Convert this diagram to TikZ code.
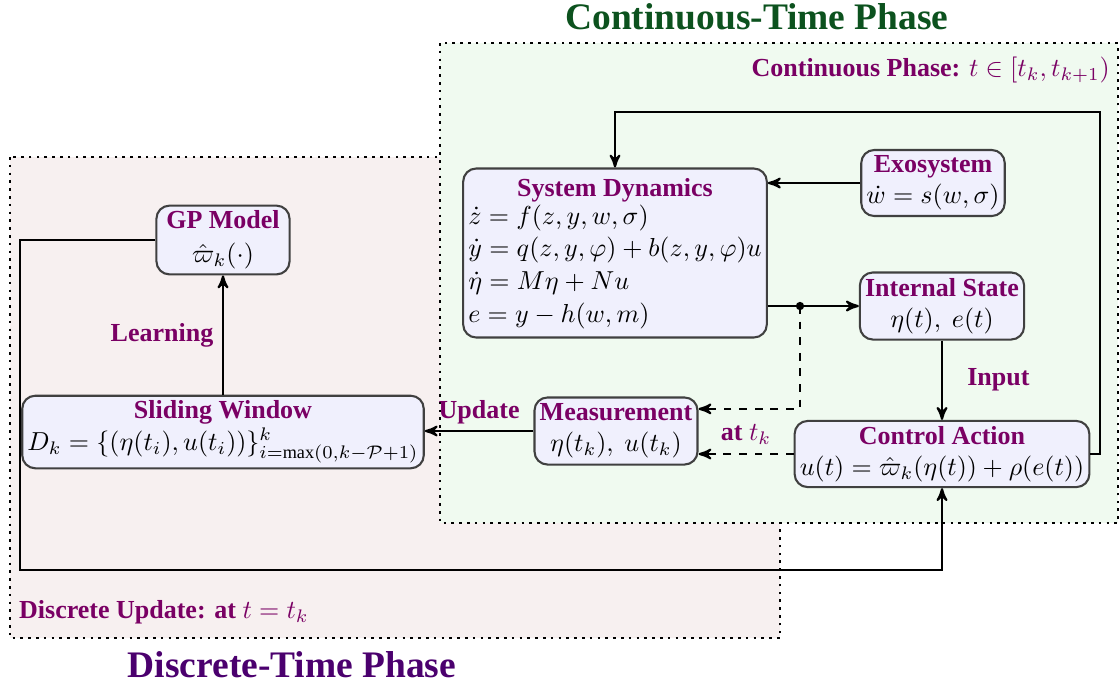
\documentclass[tikz,border=0pt]{standalone}
\usepackage{amsmath}
\usepackage{amssymb}
\usepackage{fontspec}
\setmainfont{Liberation Serif}
\usepackage{tikz}
\usetikzlibrary{arrows.meta, positioning, arrows, calc}

\definecolor{labelpurple}{RGB}{122,0,100}
\definecolor{blockfill}{RGB}{240,240,253}
\definecolor{contfill}{RGB}{240,250,240}
\definecolor{discfill}{RGB}{247,240,240}
\definecolor{conttitle}{RGB}{12,82,30}
\definecolor{disctitle}{RGB}{75,0,110}

\newcommand{\ttl}[1]{\textcolor{labelpurple}{\bfseries #1}}

\tikzset{
  block/.style={draw=black!75, fill=blockfill, rounded corners=5pt, align=center, inner sep=2pt, thick},
  lbl/.style={text=labelpurple, font=\bfseries},
  region/.style={draw=black, dotted, line width=1pt},
  flow/.style={->, thick},
}

\begin{document}
\begin{tikzpicture}[>=stealth', x=0.3846pt, y=-0.3846pt]
\useasboundingbox (0,0) rectangle (1120,685);

% Phase regions (discrete one below the continuous one)
\draw[region, fill=discfill] (10,157) rectangle (780,638);
\draw[region, fill=contfill] (440,43) rectangle (1118,523);

\node (conttitle) [text=conttitle, font=\Large\bfseries] at (757,17) {Continuous-Time Phase};
\node (disctitle) [text=disctitle, font=\Large\bfseries] at (292,665) {Discrete-Time Phase};
\node (contlabel) [lbl, anchor=east] at (1119,70) {Continuous Phase: $t \in [t_k, t_{k+1})$};
\node (disclabel) [lbl, anchor=west] at (10,612) {Discrete Update: at $t = t_k$};

% Blocks of the continuous phase
\node (sd) [block, inner ysep=0pt, minimum width=113.8pt, minimum height=65pt] at (615,253) {%
  \renewcommand{\arraystretch}{1.05}%
  \begin{tabular}{@{}l@{}}
    \multicolumn{1}{@{}c@{}}{\ttl{System Dynamics}}\\[-2pt]
    $\dot z = f(z,y,w,\sigma)$\\
    $\dot y = q(z,y,\varphi) + b(z,y,\varphi)u$\\
    $\dot\eta = M\eta + Nu$\\
    $e = y - h(w,m)$
  \end{tabular}};
\node (exo) [block, minimum width=54.6pt, minimum height=25.4pt] at (933,183) {\ttl{Exosystem}\\ $\dot w = s(w,\sigma)$};
\node (is) [block, minimum width=61.5pt, minimum height=25.8pt] at (942,306) {\ttl{Internal State}\\ $\eta(t),\ e(t)$};
\node (ca) [block, minimum width=110.8pt, minimum height=25.4pt] at (942,454) {\ttl{Control Action}\\ $u(t) = \hat{\varpi}_k(\eta(t)) + \rho(e(t))$};
\node (meas) [block, minimum width=61.9pt, minimum height=25.8pt] at (616,431) {\ttl{Measurement}\\ $\eta(t_k),\ u(t_k)$};

% Blocks of the discrete phase
\node (sw) [block, minimum width=151.9pt, minimum height=26.9pt] at (223,432) {\ttl{Sliding Window}\\ $D_k = \{(\eta(t_i), u(t_i))\}_{i=\max(0,k-\mathcal{P}+1)}^{k}$};
\node (gp) [block, minimum width=51.2pt, minimum height=25.8pt] at (223,240) {\ttl{GP Model}\\[1pt] $\hat{\varpi}_k(\cdot)$};

% Connectors
\coordinate (tap) at (800,306);
\coordinate (fbtop) at (1100,112);
\coordinate (loopcorner) at (20,570);

\draw[flow] (exo.west) -- (exo.west -| sd.east);
\draw[flow] (ca.east) -| (fbtop) -| (sd.north);
\draw[flow] (is.west -| sd.east) -- (is.west);
\fill (tap) circle (1.6pt);
\draw[flow, dashed] (tap) |- ([yshift=8.5pt]meas.east);
\draw[flow] (is.south) -- node[lbl, right=6pt] {Input} (ca.north);
\draw[flow, dashed] (ca.west) -- node[lbl, above] {at $t_k$} (ca.west -| meas.east);
\draw[flow] (meas.west) -- node[lbl, above=-1pt] {Update} (meas.west -| sw.east);
\draw[flow] (sw.north) -- node[lbl, left=0pt] {Learning} (gp.south);
\draw[flow] (gp.west) -| (loopcorner) -| (ca.south);

\end{tikzpicture}
\end{document}
